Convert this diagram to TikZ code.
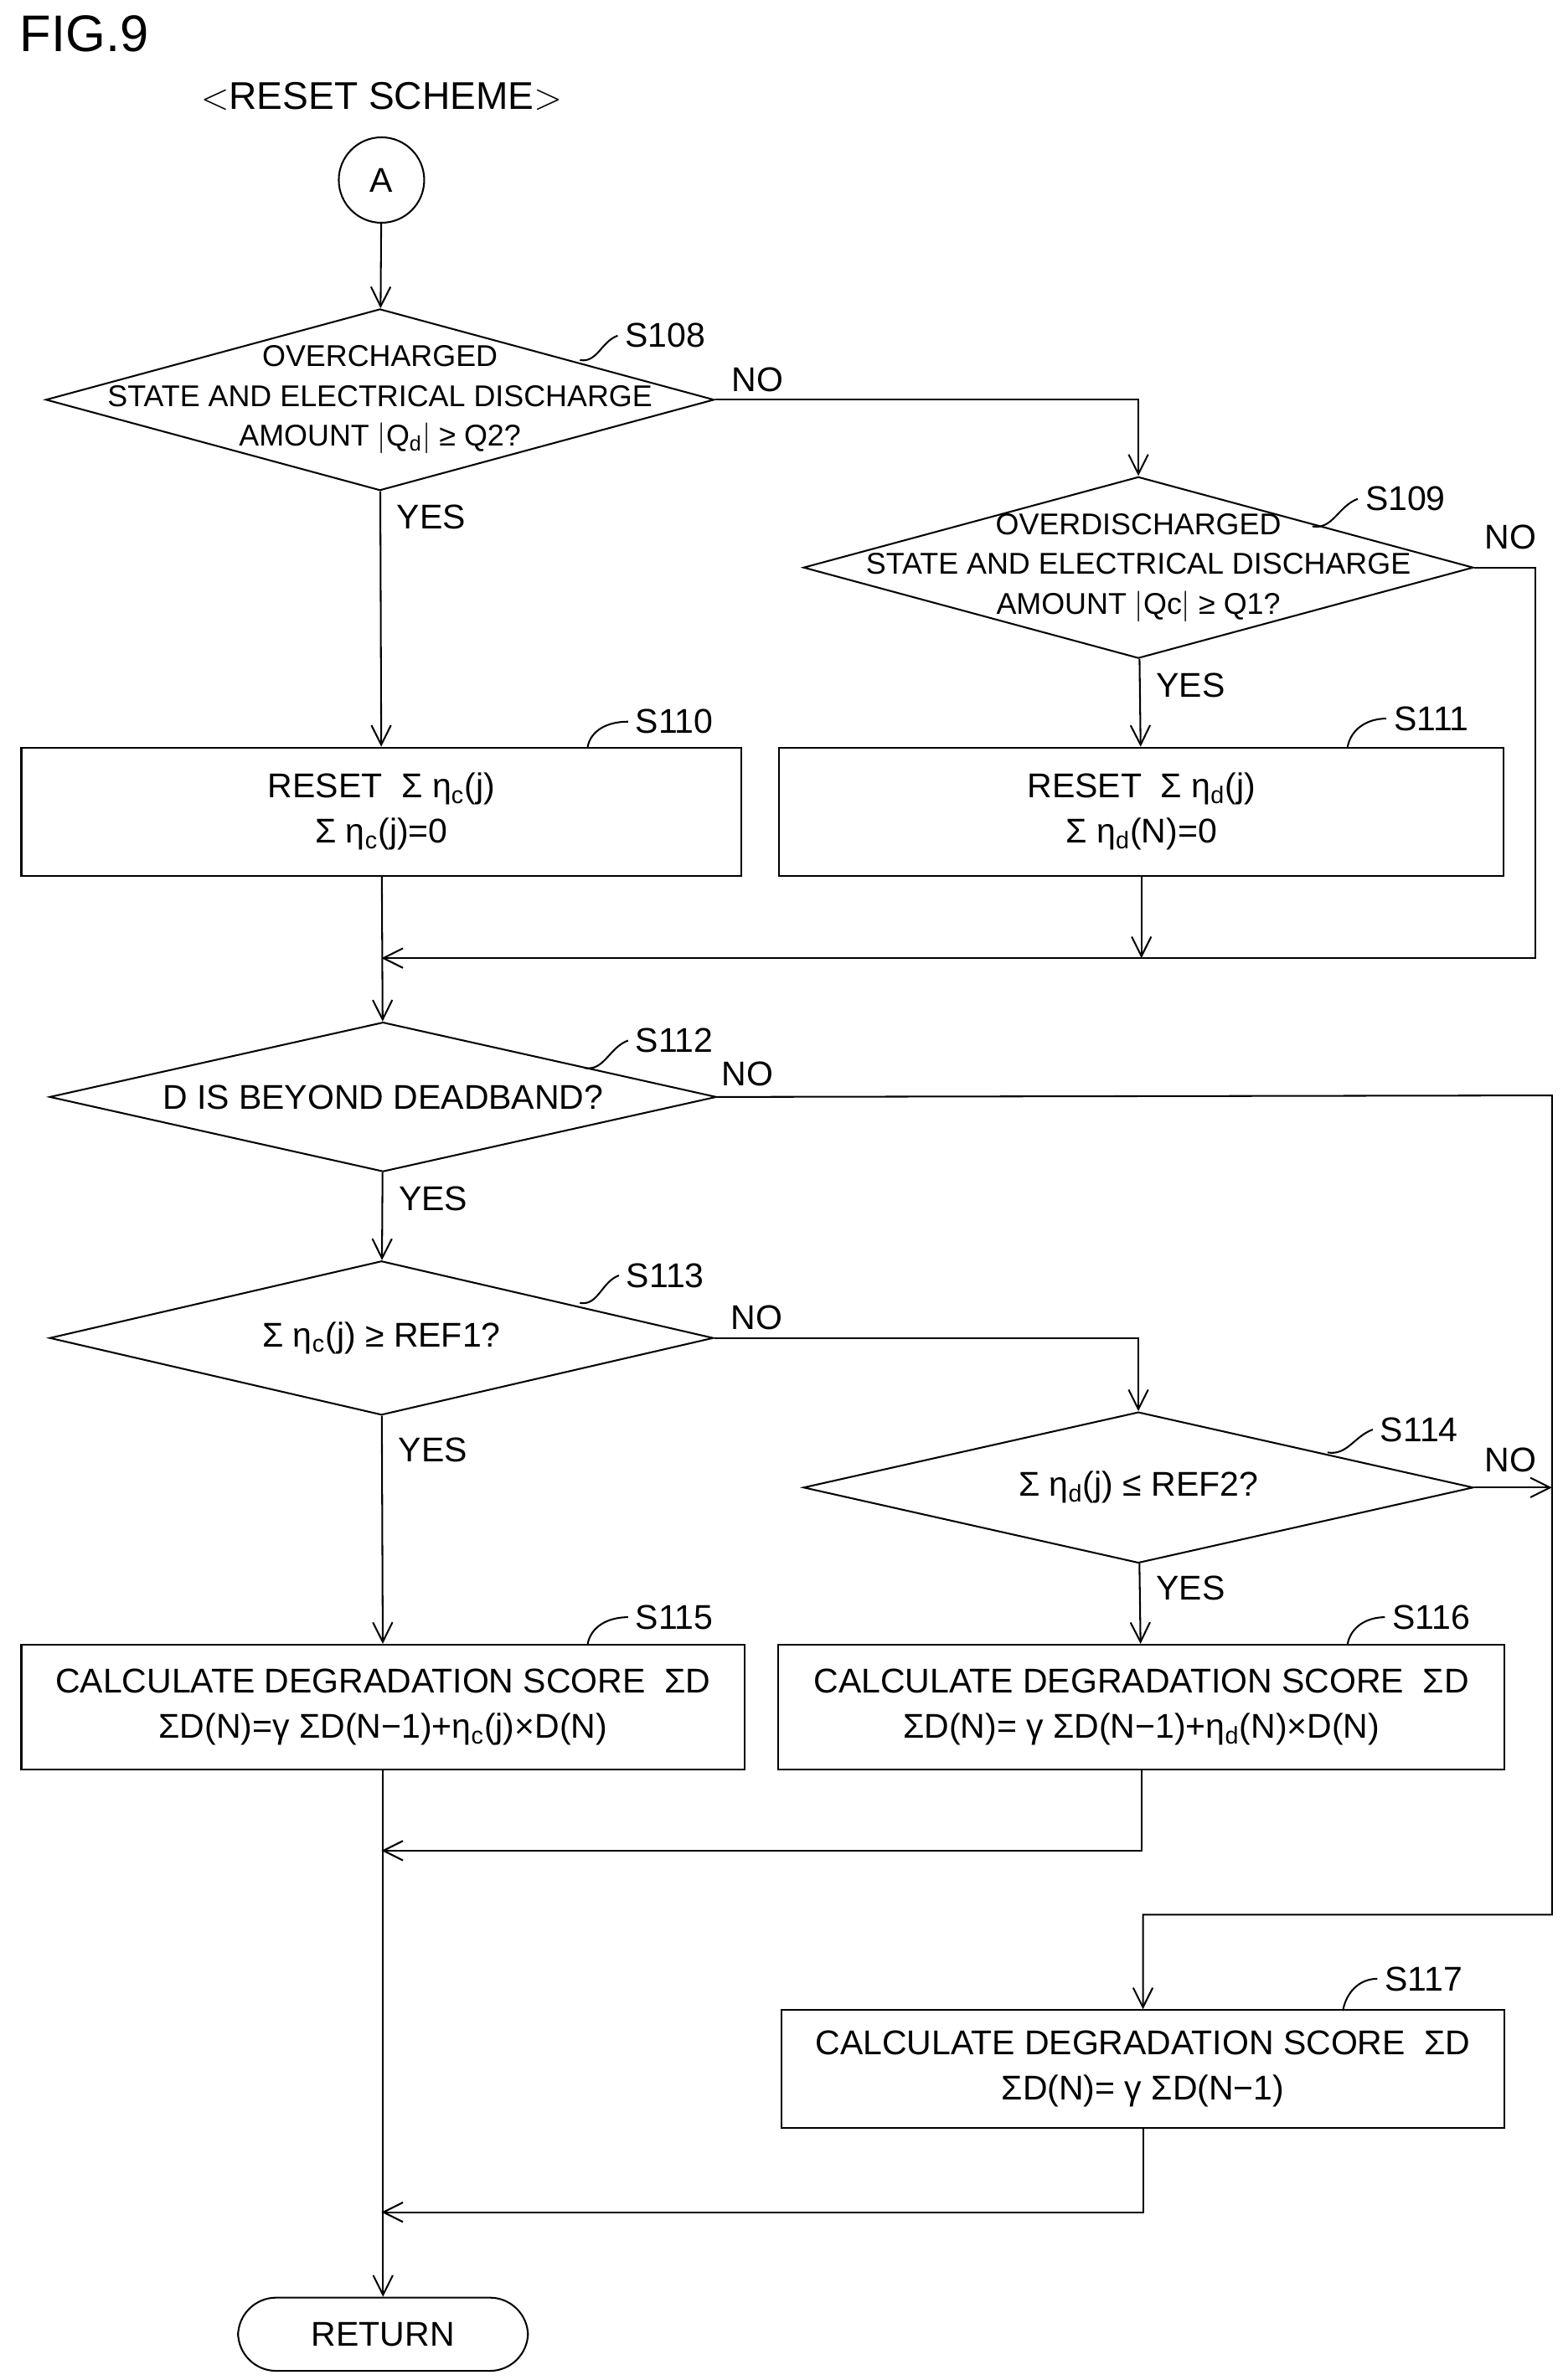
\documentclass[tikz,border=0pt]{standalone}
\usepackage{fontspec}
\setmainfont{Liberation Sans}
\usetikzlibrary{shapes.geometric,arrows.meta}
\def\u{0.025cm}
\tikzset{
  every node/.style={font=\fontsize{16}{21}\selectfont, align=center},
  dec/.style={draw, thick, diamond, inner sep=0pt},
  dtext/.style={font=\fontsize{14}{18.5}\selectfont},
  proc/.style={draw, thick, rectangle, inner sep=0pt},
  line/.style={thick},
  arr/.style={thick, -{Straight Barb[length=3.2mm,width=3.2mm]}},
  lead/.style={thick}
}
\begin{document}
\begin{tikzpicture}[x=\u, y=-\u]
    \useasboundingbox (0,0) rectangle (1024,1560);

    % Titles
    \node[anchor=west, font=\fontsize{24}{26}\selectfont] (fig) at (8,22) {FIG.9};
    \node (title) at (250,63) {\fontsize{18}{22}\selectfont$<$RESET SCHEME$>$};
    \node[draw, thick, circle, minimum size=56*\u, inner sep=0pt] (A) at (250,118) {A};

    % Decisions
    \node[dec, minimum width=438*\u, minimum height=119*\u] (s108) at (249,262) {};
    \node[dtext] at (s108) {OVERCHARGED\\STATE AND ELECTRICAL DISCHARGE\\AMOUNT $|$Q$_\mathrm{d}|$ ≥ Q2?};
    \node[dec, minimum width=439*\u, minimum height=119*\u] (s109) at (746,372) {};
    \node[dtext] at (s109) {OVERDISCHARGED\\STATE AND ELECTRICAL DISCHARGE\\AMOUNT $|$Qc$|$ ≥ Q1?};
    \node[dec, minimum width=437*\u, minimum height=98*\u] (s112) at (251,719) {};
    \node at (s112) {D IS BEYOND DEADBAND?};
    \node[dec, minimum width=435*\u, minimum height=101*\u] (s113) at (250,877) {};
    \node at (s113) {Σ η$_\mathrm{c}$(j) ≥ REF1?};
    \node[dec, minimum width=439*\u, minimum height=99*\u] (s114) at (746,975) {};
    \node at (s114) {Σ η$_\mathrm{d}$(j) ≤ REF2?};

    % Processes
    \node[proc, minimum width=472*\u, minimum height=84*\u] (s110) at (250,532) {RESET\ \ Σ η$_\mathrm{c}$(j)\\Σ η$_\mathrm{c}$(j)=0};
    \node[proc, minimum width=475*\u, minimum height=84*\u] (s111) at (748,532) {RESET\ \ Σ η$_\mathrm{d}$(j)\\Σ η$_\mathrm{d}$(N)=0};
    \node[proc, minimum width=474*\u, minimum height=82*\u] (s115) at (251,1119) {CALCULATE DEGRADATION SCORE\ \ ΣD\\ΣD(N)=γ ΣD(N−1)+η$_\mathrm{c}$(j)×D(N)};
    \node[proc, minimum width=476*\u, minimum height=82*\u] (s116) at (748,1119) {CALCULATE DEGRADATION SCORE\ \ ΣD\\ΣD(N)= γ ΣD(N−1)+η$_\mathrm{d}$(N)×D(N)};
    \node[proc, minimum width=474*\u, minimum height=77*\u] (s117) at (749,1356) {CALCULATE DEGRADATION SCORE\ \ ΣD\\ΣD(N)= γ ΣD(N−1)};
    \node[draw, thick, rounded corners=25*\u, minimum width=190*\u, minimum height=48*\u] (ret) at (251,1530) {RETURN};

    % Step labels
    \node (l108) at (436,220) {S108};
    \node (l109) at (921,327) {S109};
    \node (l110) at (442,473) {S110};
    \node (l111) at (938,471) {S111};
    \node (l112) at (442,682) {S112};
    \node (l113) at (436,836) {S113};
    \node (l114) at (930,937) {S114};
    \node (l115) at (442,1060) {S115};
    \node (l116) at (938,1060) {S116};
    \node (l117) at (933,1297) {S117};
    \draw[lead] (380,236) to[out=-10,in=200] (l108.west);
    \draw[lead] (860,345) to[out=-10,in=200] (l109.west);
    \draw[lead] (385,490) to[out=80,in=180] (l110.west);
    \draw[lead] (883,490) to[out=80,in=180] (l111.west);
    \draw[lead] (383,700) to[out=-10,in=200] (l112.west);
    \draw[lead] (380,854) to[out=-10,in=200] (l113.west);
    \draw[lead] (870,952) to[out=-10,in=200] (l114.west);
    \draw[lead] (385,1078) to[out=80,in=180] (l115.west);
    \draw[lead] (883,1078) to[out=80,in=180] (l116.west);
    \draw[lead] (880,1318) to[out=80,in=180] (l117.west);

    % Merge points
    \coordinate (m1) at (250,628);
    \coordinate (m2) at (250,1213);
    \coordinate (m3) at (250,1450);

    % Connectors
    \draw[arr] (A) -- (s108);
    \draw[arr] (s108.east) -| (s109.north) node[pos=0.05, above] {NO};
    \draw[arr] (s108) -- (s110) node[pos=0.1, right=4pt] {YES};
    \draw[arr] (s109) -- (s111) node[pos=0.3, right=4pt] {YES};
    \draw[arr] (s109.east) -- (1006,372) -- (1006,628) -- (m1);
    \node at (990,352) {NO};
    \draw[arr] (s111) -- (748,628);
    \draw[arr] (s110) -- (s112);
    \draw[arr] (s112.east) -- (1017,718) -- (1017,1255) -| (s117.north);
    \node at (490,704) {NO};
    \draw[arr] (s112) -- (s113) node[pos=0.3, right=4pt] {YES};
    \draw[arr] (s113.east) -| (s114.north) node[pos=0.05, above] {NO};
    \draw[arr] (s113) -- (s115) node[pos=0.15, right=4pt] {YES};
    \draw[arr] (s114.east) -- (1017,975);
    \node at (990,957) {NO};
    \draw[arr] (s114) -- (s116) node[pos=0.3, right=4pt] {YES};
    \draw[arr] (s116.south) |- (m2);
    \draw[arr] (s115) -- (ret);
    \draw[arr] (s117.south) |- (m3);
\end{tikzpicture}
\end{document}
